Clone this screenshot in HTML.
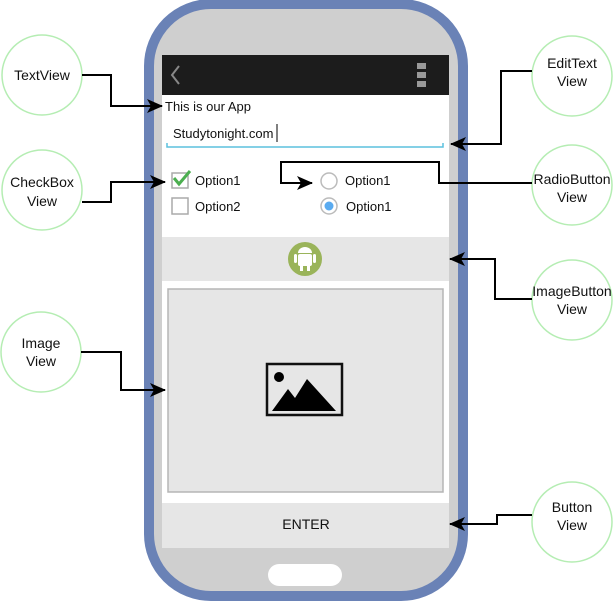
<!DOCTYPE html>
<html><head><meta charset="utf-8"><style>
html,body{margin:0;padding:0;background:#fff;width:614px;height:602px;overflow:hidden}
svg{display:block}
text{font-family:"Liberation Sans",Arial,sans-serif;fill:#111}
</style></head><body>
<svg width="614" height="602" viewBox="0 0 614 602" xmlns="http://www.w3.org/2000/svg">
<defs>
<marker id="ar" viewBox="0 0 16 14" refX="15" refY="7" markerWidth="16" markerHeight="14" markerUnits="userSpaceOnUse" orient="auto">
<path d="M0,0 L16,7 L0,14 L4,7 Z" fill="#000"/>
</marker>
</defs>
<!-- phone -->
<rect x="149" y="4" width="314" height="592" rx="62" fill="#cfcfcf" stroke="#6a82b6" stroke-width="10"/>
<rect x="162" y="55" width="287" height="493" fill="#fff"/>
<rect x="162" y="55" width="287" height="40" fill="#1c1c1c"/>
<path d="M179,66 L172,75 L179,84" fill="none" stroke="#888" stroke-width="2"/>
<rect x="417" y="63" width="9" height="6" fill="#999"/>
<rect x="417" y="72" width="9" height="6" fill="#999"/>
<rect x="417" y="81" width="9" height="6" fill="#999"/>
<text x="165" y="111" font-size="13">This is our App</text>
<text x="173" y="138" font-size="13">Studytonight.com</text>
<line x1="277" y1="124" x2="277" y2="142" stroke="#000" stroke-width="1"/>
<path d="M167,143 L167,147 L443,147 L443,143" fill="none" stroke="#5bc0de" stroke-width="1.5"/>
<rect x="172" y="173" width="16" height="15" fill="#fff" stroke="#aaa" stroke-width="1.5"/>
<path d="M174,178 L179,184 L190,171" fill="none" stroke="#4caf50" stroke-width="3"/>
<text x="195" y="185" font-size="13">Option1</text>
<rect x="172" y="198" width="16" height="16" fill="#fff" stroke="#aaa" stroke-width="1.5"/>
<text x="195" y="211" font-size="13">Option2</text>
<circle cx="329" cy="181" r="8" fill="#fff" stroke="#bbb" stroke-width="1.5"/>
<text x="345" y="185" font-size="13">Option1</text>
<circle cx="329" cy="206" r="8" fill="#fff" stroke="#bbb" stroke-width="1.5"/>
<circle cx="329" cy="206" r="4.5" fill="#5aabf0"/>
<text x="346" y="211" font-size="13">Option1</text>
<!-- image button row -->
<rect x="162" y="237" width="287" height="44" fill="#e6e6e6"/>
<circle cx="305" cy="259" r="17" fill="#9ab45a"/>
<rect x="298" y="254" width="14" height="12" rx="2" fill="#fff"/>
<path d="M298,253 A7,6 0 0 1 312,253 Z" fill="#fff"/>
<rect x="300" y="265" width="3" height="6" fill="#fff"/><rect x="307" y="265" width="3" height="6" fill="#fff"/>
<rect x="294" y="254" width="3" height="9" rx="1.5" fill="#fff"/><rect x="313" y="254" width="3" height="9" rx="1.5" fill="#fff"/>
<!-- image view -->
<rect x="168" y="289" width="275" height="203" fill="#e6e6e6" stroke="#b5b5b5" stroke-width="1.5"/>
<rect x="267" y="364" width="75" height="51" fill="none" stroke="#111" stroke-width="2.5"/>
<circle cx="279" cy="377" r="5" fill="#000"/>
<path d="M272,411 L288,389 L295,398 L307,379 L336,411 Z" fill="#000"/>
<!-- button -->
<rect x="162" y="503" width="287" height="45" fill="#e6e6e6"/>
<text x="306" y="529" font-size="14" text-anchor="middle">ENTER</text>
<rect x="268" y="564" width="74" height="22" rx="11" fill="#fff"/>
<!-- circles -->
<g fill="#fff" stroke="#b5edb3" stroke-width="1.5">
<circle cx="42" cy="75" r="40"/>
<circle cx="42" cy="190" r="40"/>
<circle cx="41" cy="352" r="40"/>
<circle cx="572" cy="76" r="40"/>
<circle cx="572" cy="185" r="40"/>
<circle cx="572" cy="300" r="40"/>
<circle cx="572" cy="522" r="40"/>
</g>
<g font-size="14" text-anchor="middle">
<text x="42" y="80">TextView</text>
<text x="42" y="187">CheckBox</text><text x="42" y="206">View</text>
<text x="41" y="348">Image</text><text x="41" y="366">View</text>
<text x="572" y="68">EditText</text><text x="572" y="86">View</text>
<text x="572" y="184">RadioButton</text><text x="572" y="202">View</text>
<text x="572" y="296">ImageButton</text><text x="572" y="314">View</text>
<text x="572" y="512">Button</text><text x="572" y="530">View</text>
</g>
<!-- connectors -->
<g fill="none" stroke="#000" stroke-width="2" marker-end="url(#ar)">
<path d="M82,75 H111 V106 H162"/>
<path d="M82,202 H111 V182 H165"/>
<path d="M81,352 H121 V390 H165"/>
<path d="M532,71 H501 V144 H451"/>
<path d="M532,183 H439 V162 H281 V183 H312"/>
<path d="M532,299 H495 V259 H450"/>
<path d="M532,515 H497 V524 H450"/>
</g>
</svg>
</body></html>
